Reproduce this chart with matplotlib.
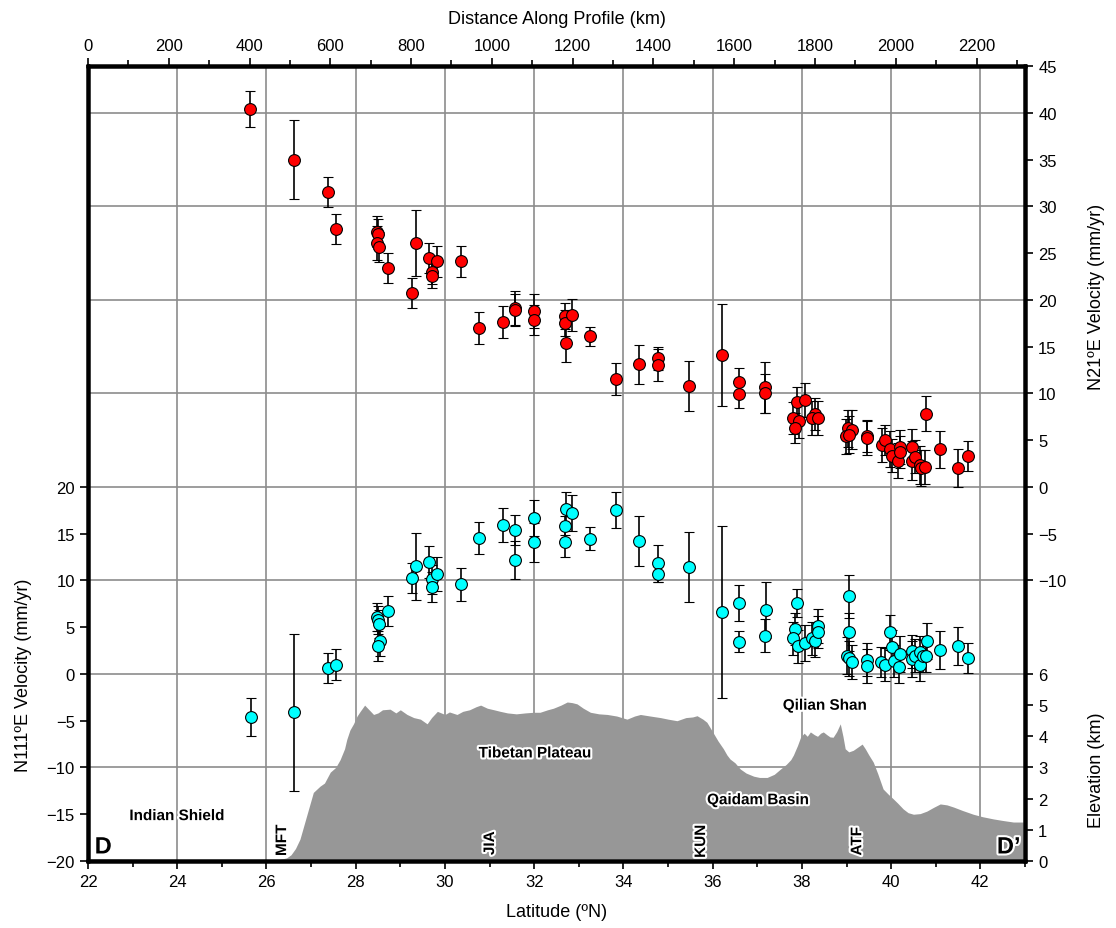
import matplotlib
matplotlib.use('Agg')
import matplotlib.pyplot as plt
import matplotlib.patheffects as pe
import numpy as np

plt.rcParams['font.family'] = ['Liberation Sans', 'DejaVu Sans']

# N21E velocity (red, right axis)
red_lat = [25.64, 26.62, 27.38, 27.55, 28.48, 28.50, 28.47, 28.52, 28.72, 29.36, 29.26, 29.65, 29.82, 29.70,
           29.70, 30.36, 30.77, 31.29, 31.56, 31.56, 32.00, 31.99, 32.69, 32.69, 32.84, 32.72, 33.25, 33.84,
           34.34, 34.78, 34.78, 35.47, 36.20, 36.58, 36.58, 37.18, 37.18, 37.89, 38.06, 37.81, 37.93, 37.85,
           38.30, 38.22, 38.36, 39.03, 39.12, 38.99, 39.06, 39.46, 39.46, 39.79, 39.87, 39.98, 40.03, 40.15,
           40.19, 40.19, 40.47, 40.47, 40.53, 40.64, 40.68, 40.75, 40.79, 41.10, 41.50, 41.73]
red_vel = [40.4, 35.0, 31.5, 27.6, 27.3, 27.0, 26.1, 25.6, 23.4, 26.1, 20.7, 24.5, 24.1, 23.0,
           22.6, 24.1, 16.95, 17.6, 19.1, 18.9, 18.8, 17.8, 18.3, 17.55, 18.4, 15.4, 16.1, 11.5,
           13.1, 13.75, 13.07, 10.8, 14.1, 11.25, 9.9, 10.65, 10.0, 9.05, 9.26, 7.4, 7.0, 6.27,
           7.8, 7.34, 7.34, 6.27, 6.1, 5.4, 5.6, 5.4, 5.2, 4.5, 5.0, 4.06, 3.35, 2.8,
           4.3, 3.7, 4.24, 2.8, 3.24, 2.35, 2.0, 2.1, 7.83, 4.0, 2.0, 3.3]
red_err = [1.9, 4.2, 1.6, 1.6, 1.7, 1.6, 1.8, 1.6, 1.6, 3.5, 1.6, 1.6, 1.7, 1.3,
           1.3, 1.7, 1.7, 1.7, 1.8, 1.7, 1.8, 1.6, 1.4, 1.4, 1.7, 2.0, 1.0, 1.7,
           2.1, 1.2, 1.7, 2.7, 5.5, 1.5, 1.5, 2.7, 2.1, 1.6, 1.8, 1.7, 1.8, 1.6,
           1.7, 1.8, 1.8, 2.0, 2.1, 1.9, 2.0, 1.7, 1.8, 1.8, 1.6, 1.9, 1.8, 1.9,
           1.8, 1.7, 1.9, 2.1, 1.8, 2.0, 1.9, 1.8, 1.9, 2.0, 2.0, 1.6]

# N111E velocity (cyan, left axis)
cyan_lat = [25.65, 26.62, 27.38, 27.55, 28.47, 28.49, 28.52, 28.55, 28.49, 28.72, 29.26, 29.36, 29.65, 29.70,
            29.70, 29.82, 30.36, 30.77, 31.29, 31.56, 31.56, 32.00, 31.99, 32.72, 32.84, 32.69, 32.69, 33.25,
            33.84, 34.34, 34.78, 34.78, 35.47, 36.20, 36.58, 36.58, 37.19, 37.18, 37.89, 37.85, 37.81, 37.91,
            38.06, 38.22, 38.30, 38.36, 38.36, 39.06, 39.05, 39.00, 39.05, 39.12, 39.47, 39.46, 39.78, 39.87,
            39.98, 40.03, 40.07, 40.19, 40.17, 40.47, 40.47, 40.54, 40.65, 40.65, 40.71, 40.78, 40.80, 41.10,
            41.50, 41.73]
cyan_vel = [-4.6, -4.1, 0.68, 1.0, 6.05, 5.77, 5.34, 3.56, 2.96, 6.77, 10.26, 11.5, 12.0, 10.1,
            9.33, 10.7, 9.58, 14.56, 15.9, 15.35, 12.2, 16.7, 14.07, 17.6, 17.2, 15.85, 14.07, 14.46,
            17.55, 14.2, 11.83, 10.7, 11.43, 6.6, 7.6, 3.45, 6.8, 4.1, 7.55, 4.8, 3.8, 2.95,
            3.3, 3.8, 3.56, 5.1, 4.5, 8.33, 4.5, 1.96, 1.67, 1.25, 1.53, 0.82, 1.3, 1.0,
            4.45, 2.85, 1.39, 2.14, 0.71, 2.4, 1.6, 1.96, 2.3, 0.96, 1.96, 1.96, 3.53, 2.56,
            3.0, 1.7]
cyan_err = [2.0, 8.4, 1.6, 1.7, 1.5, 1.5, 1.5, 1.6, 1.6, 1.6, 1.6, 3.6, 1.7, 1.6,
            1.6, 1.8, 1.8, 1.7, 1.8, 1.6, 2.0, 1.9, 2.1, 1.8, 1.9, 1.0, 1.6, 1.2,
            1.9, 2.7, 2.0, 0.9, 3.7, 9.2, 1.9, 1.1, 3.0, 1.8, 1.5, 1.7, 1.8, 1.8,
            1.9, 1.8, 1.7, 1.8, 1.7, 2.3, 2.0, 2.0, 1.9, 1.8, 1.8, 1.8, 1.6, 1.8,
            1.9, 1.8, 1.7, 1.9, 1.7, 1.8, 1.9, 1.8, 1.8, 1.7, 1.7, 1.8, 1.9, 2.0,
            2.0, 1.6]

# topography along the profile (km)
elev_lat = [22.0, 22.5, 23.0, 23.5, 24.0, 24.5, 25.0, 25.5, 26.0, 26.3, 26.45, 26.55, 26.65, 26.75, 26.85,
            26.95, 27.05, 27.2, 27.3, 27.43, 27.55, 27.65, 27.75, 27.8, 27.87, 27.95, 28.03, 28.1, 28.2,
            28.3, 28.4, 28.5, 28.6, 28.77, 28.9, 29.0, 29.15, 29.3, 29.45, 29.6, 29.7, 29.83, 30.0, 30.1,
            30.27, 30.4, 30.55, 30.7, 30.8, 30.95, 31.1, 31.24, 31.4, 31.6, 31.8, 31.98, 32.13, 32.3, 32.43,
            32.6, 32.74, 32.85, 32.96, 33.1, 33.26, 33.45, 33.64, 33.85, 34.08, 34.25, 34.38, 34.6, 34.83,
            35.0, 35.2, 35.4, 35.55, 35.65, 35.78, 35.87, 36.0, 36.12, 36.24, 36.32, 36.39, 36.5, 36.62,
            36.75, 36.92, 37.05, 37.22, 37.38, 37.52, 37.65, 37.75, 37.81, 37.9, 37.97, 38.05, 38.12, 38.19,
            38.28, 38.35, 38.42, 38.48, 38.56, 38.63, 38.7, 38.78, 38.86, 38.92, 38.97, 39.05, 39.15, 39.25,
            39.35, 39.42, 39.5, 39.6, 39.7, 39.82, 39.93, 40.05, 40.15, 40.27, 40.38, 40.5, 40.65, 40.8,
            40.95, 41.1, 41.25, 41.4, 41.6, 41.84, 42.05, 42.29, 42.5, 42.74, 43.0]
elev_km = [0.08, 0.07, 0.06, 0.05, 0.05, 0.04, 0.04, 0.04, 0.04, 0.05, 0.1, 0.2, 0.4, 0.7, 1.2,
           1.7, 2.2, 2.4, 2.5, 2.85, 3.0, 3.25, 3.6, 3.9, 4.2, 4.4, 4.65, 4.8, 5.0,
           4.85, 4.7, 4.75, 4.85, 4.87, 4.75, 4.85, 4.7, 4.6, 4.55, 4.4, 4.6, 4.8, 4.7, 4.78,
           4.7, 4.8, 4.85, 4.95, 5.0, 4.9, 4.85, 4.8, 4.75, 4.72, 4.75, 4.77, 4.77, 4.85, 4.9,
           5.0, 5.1, 5.08, 5.04, 4.9, 4.77, 4.72, 4.7, 4.65, 4.55, 4.65, 4.7, 4.65, 4.6,
           4.55, 4.5, 4.6, 4.62, 4.66, 4.55, 4.45, 4.14, 3.85, 3.6, 3.4, 3.27, 3.15, 2.95,
           2.82, 2.72, 2.68, 2.68, 2.78, 2.95, 3.1, 3.25, 3.4, 3.7, 3.97, 4.1, 4.0, 4.14,
           4.05, 4.0, 4.1, 4.14, 4.05, 3.98, 3.97, 4.15, 4.4, 4.0, 3.6, 3.5, 3.55, 3.65,
           3.75, 3.6, 3.4, 3.17, 2.8, 2.31, 2.15, 1.99, 1.85, 1.67, 1.55, 1.5, 1.52, 1.6,
           1.72, 1.83, 1.8, 1.73, 1.62, 1.5, 1.42, 1.35, 1.3, 1.25, 1.25]

# labels on the profile: text, latitude, N111E-axis height
region_labels = [('Indian Shield', 24.0, -15.2), ('Tibetan Plateau', 32.02, -8.5),
                 ('Qaidam Basin', 37.02, -13.5), ('Qilian Shan', 38.52, -3.4)]
fault_labels = [('MFT', 26.35, -17.8), ('JIA', 31.01, -18.1), ('KUN', 35.74, -17.9), ('ATF', 39.24, -17.9)]

fig = plt.figure(figsize=(11.16, 9.29), dpi=100)
ax = fig.add_axes([88 / 1116, 67 / 929, 937 / 1116, 795 / 929])
ax_e = ax.twinx()
ax_r = ax.twinx()
ax_c = ax.twinx()

tick_kw = dict(direction='out', labelsize=12, width=1.2)

ax.set_xlim(22, 43)
ax.set_ylim(-20, 65)
for g in range(22, 43, 2):
    ax.axvline(g, color='#8c8c8c', lw=1.2, zorder=0)
for g in range(-20, 61, 10):
    ax.axhline(g, color='#8c8c8c', lw=1.2, zorder=0)
ax.set_xticks(range(22, 43, 2))
ax.set_xticks(range(22, 44), minor=True)
ax.set_yticks(range(-20, 21, 5))
ax.tick_params(axis='both', which='major', length=6, **tick_kw)
ax.tick_params(axis='x', which='minor', direction='out', length=4, width=1.2)
ax.set_xlabel('Latitude (ºN)', fontsize=13, labelpad=10)
ax.set_ylabel('N111ºE Velocity (mm/yr)', fontsize=13)
ax.yaxis.set_label_coords(-0.06, 0.235)

# elevation on its own scale (right, bottom part)
ax_e.fill_between(elev_lat, 0, elev_km, color='#979797', lw=0)
ax_e.set_ylim(0, 25.5)
ax_e.set_yticks(range(0, 7))
ax_e.tick_params(axis='y', length=6, **tick_kw)
ax_e.set_ylabel('Elevation (km)', fontsize=13)
ax_e.yaxis.set_label_coords(1.067, 0.116)

# N21E velocity (right, upper part)
ax_r.errorbar(red_lat, red_vel, yerr=red_err, fmt='o', ms=8.5, mfc='red', mec='k', mew=0.8,
              ecolor='k', elinewidth=1.2, capsize=3.8, capthick=1.2)
ax_r.set_ylim(-40, 45)
ax_r.set_yticks(range(-10, 46, 5))
ax_r.tick_params(axis='y', length=6, **tick_kw)
ax_r.set_ylabel('N21ºE Velocity (mm/yr)', fontsize=13)
ax_r.yaxis.set_label_coords(1.067, 0.711)

# N111E velocity on the left scale
ax_c.errorbar(cyan_lat, cyan_vel, yerr=cyan_err, fmt='o', ms=8.5, mfc='cyan', mec='k', mew=0.8,
              ecolor='k', elinewidth=1.2, capsize=3.8, capthick=1.2)
ax_c.set_ylim(-20, 65)
ax_c.set_yticks([])

halo = [pe.withStroke(linewidth=3, foreground='white')]
for txt, x, y in region_labels:
    ax_c.text(x, y, txt, fontsize=11, fontweight='bold', ha='center', va='center', path_effects=halo)
for txt, x, y in fault_labels:
    ax_c.text(x, y, txt, fontsize=11, fontweight='bold', rotation=90, ha='center', va='center',
              path_effects=halo)
ax_c.text(22.15, -18.5, 'D', fontsize=17, fontweight='bold', ha='left', va='center', path_effects=halo)
ax_c.text(42.9, -18.5, 'D’', fontsize=17, fontweight='bold', ha='right', va='center', path_effects=halo)

# distance along profile
ax_t = ax_c.twiny()
ax_t.set_xlim(0, 2320)
ax_t.set_xticks(range(0, 2201, 200))
ax_t.set_xticks(range(0, 2301, 100), minor=True)
ax_t.tick_params(axis='x', which='major', length=6, **tick_kw)
ax_t.tick_params(axis='x', which='minor', direction='out', length=4, width=1.2)
ax_t.set_xlabel('Distance Along Profile (km)', fontsize=13, labelpad=11)

for a in (ax, ax_e, ax_r, ax_c, ax_t):
    a.patch.set_visible(False)
    for s in a.spines.values():
        s.set_linewidth(2.5)

fig.savefig('out.png', dpi=100)
